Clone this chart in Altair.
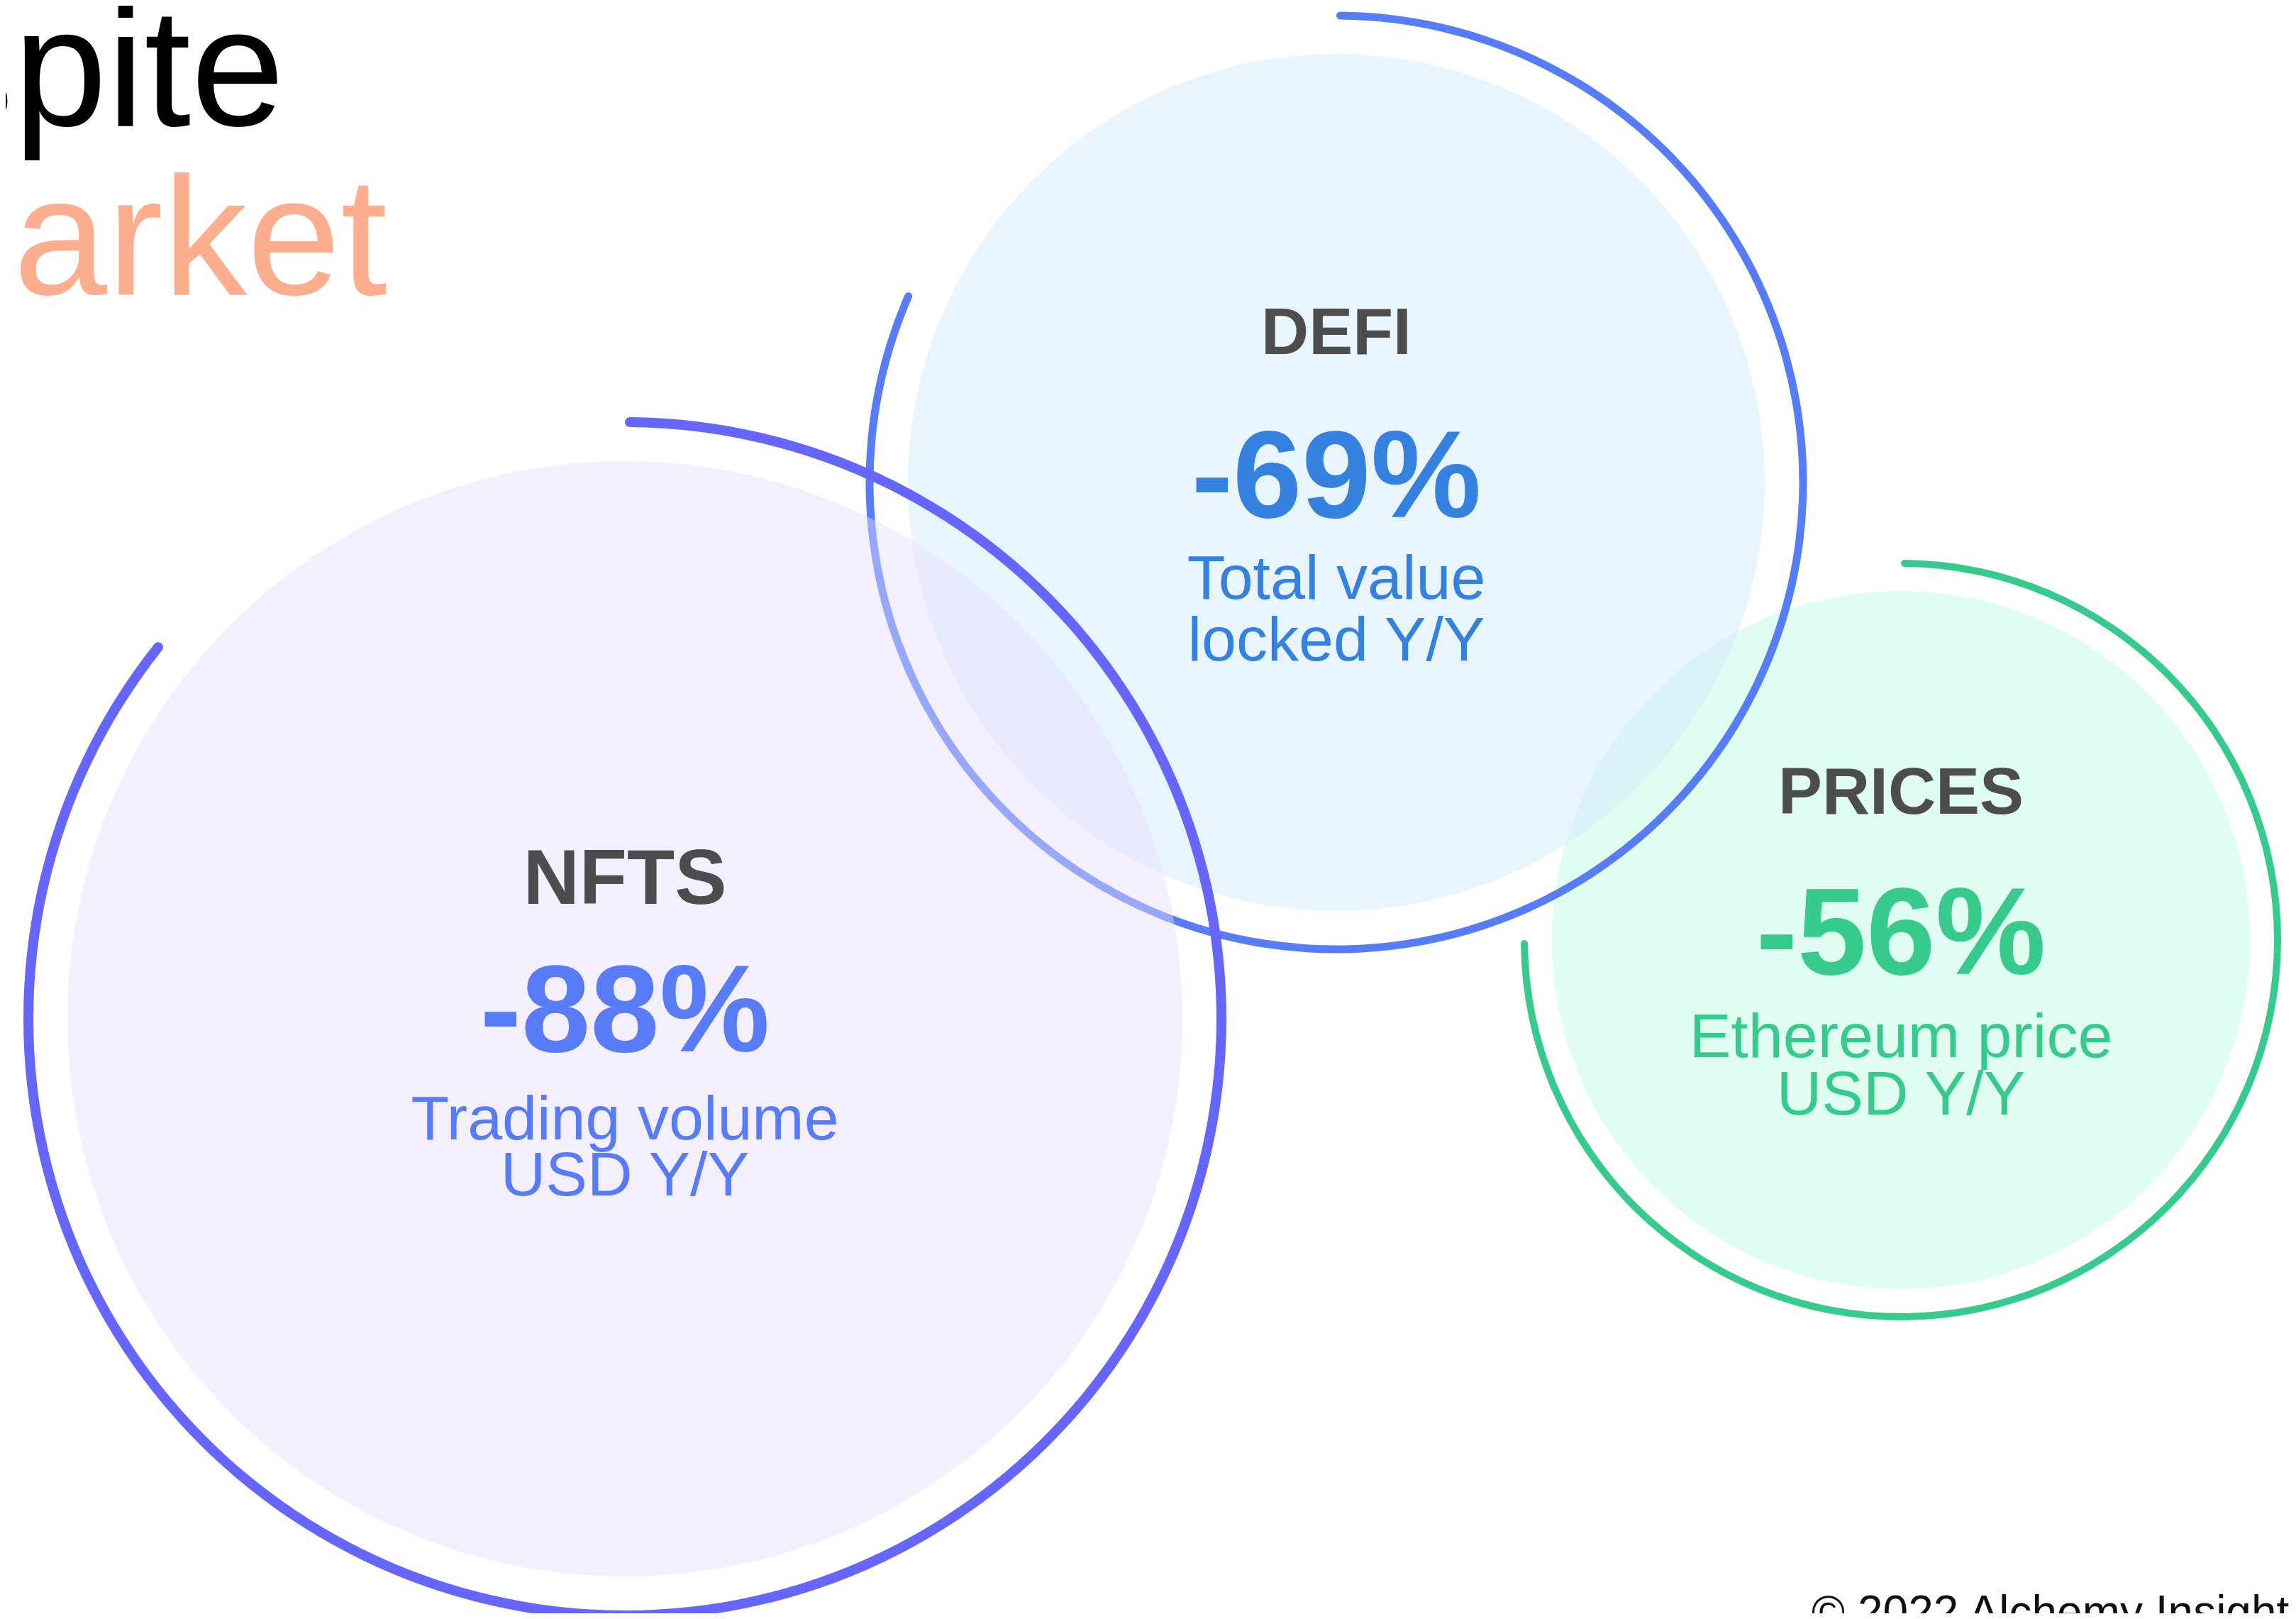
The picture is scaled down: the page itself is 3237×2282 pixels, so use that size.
import math
import altair as alt
import pandas as pd

# ---------------- data ----------------
categories = ["NFTS", "DEFI", "PRICES"]
changes = [-88, -69, -56]
desc_line1 = ["Trading volume", "Total value", "Ethereum price"]
desc_line2 = ["USD Y/Y", "locked Y/Y", "USD Y/Y"]
title_line1 = "Despite"
title_line2 = "market"
credit = "© 2022 Alchemy Insights"

# ---------------- layout (page pixels) ----------------
W, H, M = 3237, 2282, 8
centers_x = [881, 1884, 2680]
centers_y = [1436, 680, 1325]
fill_radius = [786, 604, 492]
ring_radius = [841, 658, 531]
ring_width = [14, 11, 10]
ring_sweep_deg = [309, 294, 270]
ring_colors = ["#6666FF", "#577CF7", "#36CA8C"]
fill_colors = ["#E6DBFD", "#D1E9FD", "#E0FDF1"]
fill_opacity = [0.45, 0.5, 1.0]
text_colors = ["#587BF7", "#3481E0", "#36CA8C"]
label_sizes = [110, 93, 93]
value_size = 175
desc_size = 88
label_dy = [-162, -181, -178]
value_dy = [46, 49, 48]
desc1_dy = [170, 164, 165]
desc2_dy = [249, 251, 246]
# drawing order: (category index, kind)
draw_order = [(2, "fill"), (1, "fill"), (2, "ring"), (1, "ring"), (0, "fill"), (0, "ring")]

# ---------------- tables ----------------
arc_rows = []
for z, (i, kind) in enumerate(draw_order):
    if kind == "fill":
        arc_rows.append(dict(cat=categories[i], cx=centers_x[i], cy=centers_y[i],
                             t0=0.0, t1=2 * math.pi, r_out=fill_radius[i], r_in=0,
                             col=fill_colors[i], op=fill_opacity[i], z=z))
    else:
        arc_rows.append(dict(cat=categories[i], cx=centers_x[i], cy=centers_y[i],
                             t0=0.0, t1=math.radians(ring_sweep_deg[i]),
                             r_out=ring_radius[i] + ring_width[i] / 2,
                             r_in=ring_radius[i] - ring_width[i] / 2,
                             col=ring_colors[i], op=1.0, z=z))
arc_df = pd.DataFrame(arc_rows)

bold_rows, reg_rows = [], []
for i, cat in enumerate(categories):
    bold_rows.append(dict(t=cat, x=centers_x[i], y=centers_y[i] + label_dy[i],
                          s=label_sizes[i], c="#4D4D4D"))
    bold_rows.append(dict(t=f"{changes[i]}%", x=centers_x[i], y=centers_y[i] + value_dy[i],
                          s=value_size, c=text_colors[i]))
    reg_rows.append(dict(t=desc_line1[i], x=centers_x[i], y=centers_y[i] + desc1_dy[i],
                         s=desc_size, c=text_colors[i]))
    reg_rows.append(dict(t=desc_line2[i], x=centers_x[i], y=centers_y[i] + desc2_dy[i],
                         s=desc_size, c=text_colors[i]))
bold_df = pd.DataFrame(bold_rows)
reg_df = pd.DataFrame(reg_rows)
title_df = pd.DataFrame([
    dict(t=title_line1, x=401, y=177, s=237, c="#000000"),
    dict(t=title_line2, x=546, y=415, s=237, c="#FDAE8E"),
])
credit_df = pd.DataFrame([dict(t=credit, x=2554, y=2294, s=64, c="#111111")])

# plot area exactly fills the window inside the 8px page margin
PW, PH = W - 2 * M, H - 2 * M
xs = alt.Scale(domain=[M, M + PW], range=[0, PW], nice=False, zero=False)
ys = alt.Scale(domain=[M, M + PH], range=[0, PH], nice=False, zero=False)
FONT = "Liberation Sans"

arcs = alt.Chart(arc_df).mark_arc(cornerRadius=7).encode(
    x=alt.X("cx:Q", scale=xs, axis=None),
    y=alt.Y("cy:Q", scale=ys, axis=None),
    theta=alt.Theta("t0:Q", scale=None, stack=None),
    theta2="t1:Q",
    radius=alt.Radius("r_out:Q", scale=None),
    radius2="r_in:Q",
    color=alt.Color("col:N", scale=None),
    opacity=alt.Opacity("op:Q", scale=None),
    order=alt.Order("z:Q"),
)


def text_layer(df, align, weight):
    return alt.Chart(df).mark_text(align=align, baseline="alphabetic", font=FONT,
                                   fontWeight=weight).encode(
        x=alt.X("x:Q", scale=xs, axis=None),
        y=alt.Y("y:Q", scale=ys, axis=None),
        text="t:N",
        size=alt.Size("s:Q", scale=None),
        color=alt.Color("c:N", scale=None),
    )


chart = alt.layer(
    arcs,
    text_layer(bold_df, "center", "bold"),
    text_layer(reg_df, "center", "normal"),
    text_layer(title_df, "right", "normal"),
    text_layer(credit_df, "left", "normal"),
).properties(
    width=PW, height=PH, autosize=alt.AutoSizeParams(type="none"), padding=0,
    background="#FFFFFF",
).configure_view(stroke=None)

chart.save("out.html", embed_options={"renderer": "svg", "actions": False})
